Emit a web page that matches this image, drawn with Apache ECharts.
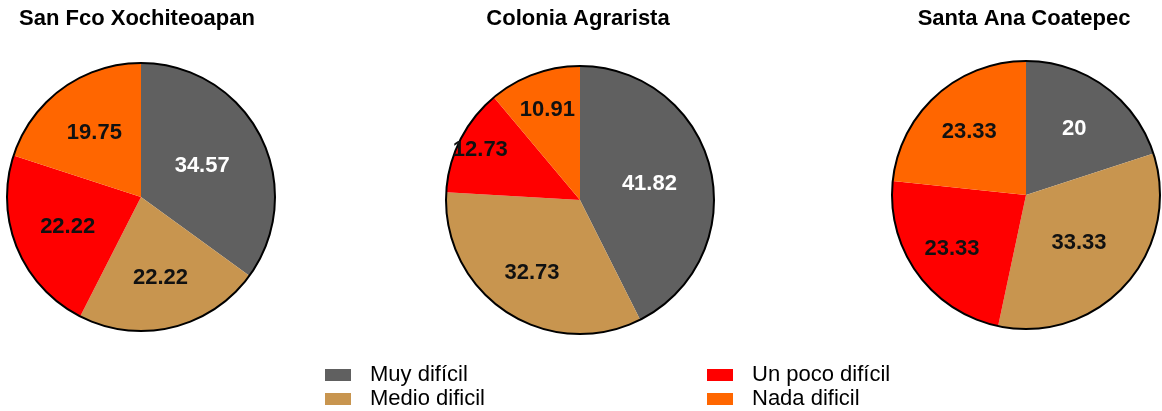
<!DOCTYPE html>
<html>
<head>
<meta charset="utf-8">
<script src="https://cdn.jsdelivr.net/npm/echarts@6/dist/echarts.min.js"></script>
<style>
  html, body { margin: 0; padding: 0; background: #fff; }
  #chart { width: 1162px; height: 411px; }
</style>
</head>
<body>
<div id="chart"></div>
<script>
const categories = ["Muy difícil", "Medio dificil", "Un poco difícil", "Nada dificil"];
const places = ["San Fco Xochiteoapan", "Colonia Agrarista", "Santa Ana Coatepec"];
const sanFco = [34.57, 22.22, 22.22, 19.75];
const colonia = [41.82, 32.73, 12.73, 10.91];
const santaAna = [20, 33.33, 23.33, 23.33];

const COLORS = ["#606060", "#c8954f", "#ff0000", "#ff6600"];
const LABEL_COLORS = ["#ffffff", "#111111", "#111111", "#111111"];
const FONT = "Liberation Sans, Arial, sans-serif";

const RADIUS = 134;
const centers = [[141, 197], [580, 200], [1026, 195]];
const titleLeft = [132, 573, 1019];
// distancia de cada etiqueta al centro, como fracción del radio
const labelRadius = [
  [0.49, 0.6, 0.57, 0.57],
  [0.51, 0.63, 0.81, 0.69],
  [0.59, 0.51, 0.66, 0.61],
];

function pieSeries(values, center, fracs) {
  const total = values.reduce((a, b) => a + b, 0);
  let acc = 0;
  return {
    type: "pie",
    center,
    radius: RADIUS,
    startAngle: 90,
    clockwise: true,
    avoidLabelOverlap: false,
    animation: false,
    data: values.map((value, i) => {
      const mid = (90 - ((acc + value / 2) / total) * 360) * Math.PI / 180;
      acc += value;
      const shift = (fracs[i] - 0.5) * RADIUS;
      return {
        name: categories[i],
        value,
        itemStyle: { color: COLORS[i] },
        label: { color: LABEL_COLORS[i], offset: [shift * Math.cos(mid), -shift * Math.sin(mid)] },
      };
    }),
    label: {
      show: true,
      position: "inside",
      formatter: (p) => String(p.value),
      fontFamily: FONT,
      fontWeight: "bold",
      fontSize: 22,
    },
    labelLine: { show: false },
    emphasis: { disabled: true },
  };
}

// contorno negro solo en el borde exterior
function outline(center) {
  return {
    type: "pie",
    center,
    radius: RADIUS,
    silent: true,
    animation: false,
    label: { show: false },
    labelLine: { show: false },
    data: [{ value: 1, name: "", itemStyle: { color: "rgba(0,0,0,0)", borderColor: "#000", borderWidth: 2 } }],
  };
}

const legendBase = {
  orient: "vertical",
  icon: "rect",
  itemWidth: 26,
  itemHeight: 12,
  itemGap: 2,
  top: 364,
  height: 47,
  padding: 0,
  textStyle: { fontFamily: FONT, fontSize: 22, color: "#000", padding: [0, 0, 0, 14] },
};

const chart = echarts.init(document.getElementById("chart"), null, { renderer: "canvas" });
chart.setOption({
  backgroundColor: "#fff",
  animation: false,
  color: COLORS,
  title: places.map((text, i) => ({
    text,
    left: titleLeft[i],
    textAlign: "center",
    top: 3,
    textStyle: { fontFamily: FONT, fontWeight: "bold", fontSize: 22, color: "#000" },
  })),
  legend: [
    { ...legendBase, left: 325, data: categories.slice(0, 2) },
    { ...legendBase, left: 707, data: categories.slice(2) },
  ],
  series: [
    pieSeries(sanFco, centers[0], labelRadius[0]),
    pieSeries(colonia, centers[1], labelRadius[1]),
    pieSeries(santaAna, centers[2], labelRadius[2]),
    outline(centers[0]),
    outline(centers[1]),
    outline(centers[2]),
  ],
});
</script>
</body>
</html>
